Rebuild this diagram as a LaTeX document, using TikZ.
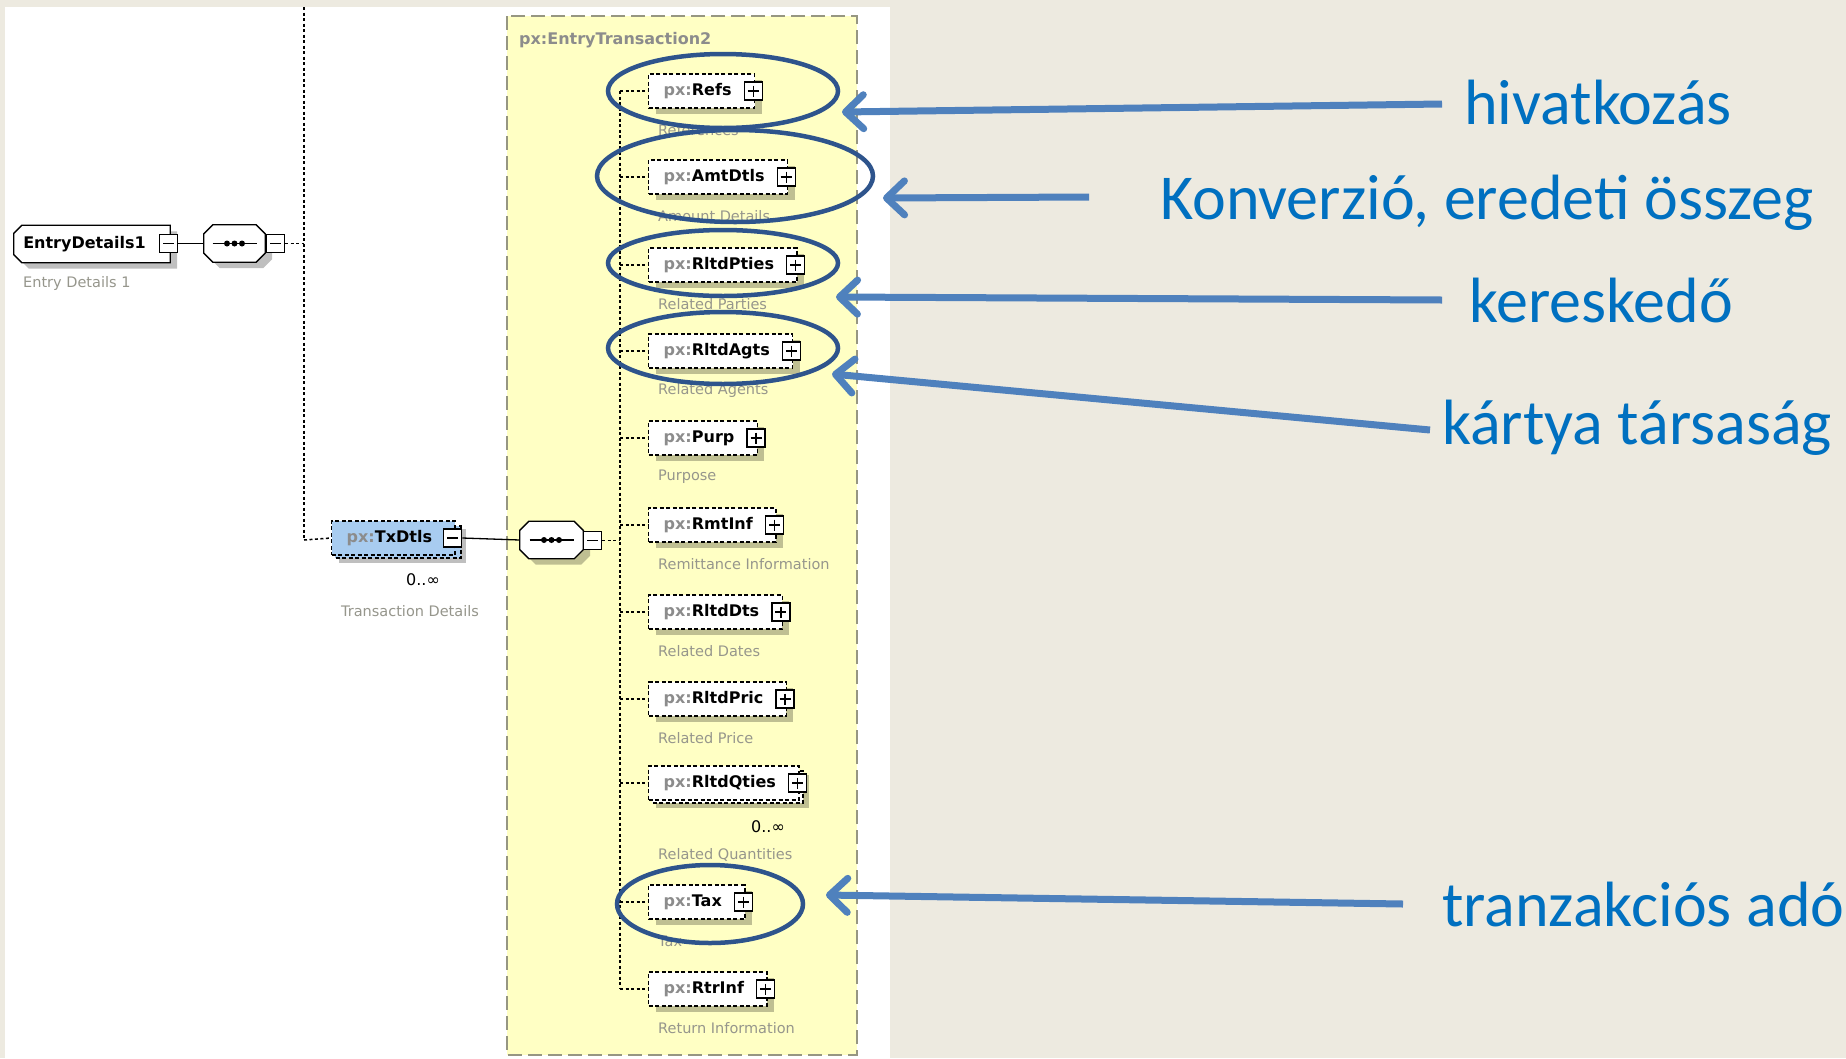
\documentclass[tikz,border=0pt]{standalone}
\usepackage{fontspec}
\setmainfont{DejaVu Sans}
\newfontfamily\calib{Carlito}
\usetikzlibrary{arrows.meta,shadows}
\pgfdeclarelayer{bglayer}
\pgfdeclarelayer{shapelayer}
\pgfsetlayers{bglayer,shapelayer,main}
\definecolor{bgbeige}{RGB}{237,234,224}
\definecolor{panelyellow}{RGB}{255,255,196}
\definecolor{yborder}{RGB}{150,150,130}
\definecolor{txblue}{RGB}{168,204,240}
\definecolor{ringblue}{RGB}{46,84,140}
\definecolor{arrowblue}{RGB}{79,129,189}
\definecolor{labelblue}{RGB}{0,112,192}
\definecolor{descgray}{RGB}{150,150,140}
\definecolor{pxgray}{RGB}{140,140,140}
\newcommand\pxn[1]{{\color{pxgray}px:}#1}
\newcommand\octopath[3]{([xshift=#2]#1.north west) -- ([xshift=-#3]#1.north east) -- ([yshift=-#3]#1.north east) -- ([yshift=#3]#1.south east) -- ([xshift=-#3]#1.south east) -- ([xshift=#2]#1.south west) -- ([yshift=#2]#1.south west) -- ([yshift=-#2]#1.north west) -- cycle}
\newcommand\octoshape[3]{%
  \begin{pgfonlayer}{shapelayer}
  \path[fill=black,opacity=.25,transform canvas={xshift=7pt,yshift=-6pt}] \octopath{#1}{#2}{#3};
  \path[draw,line width=1.3pt,fill=white] \octopath{#1}{#2}{#3};
  \end{pgfonlayer}}
\newcommand\seqdots[1]{%
  \draw[line width=1.2pt] ([xshift=-22pt]#1.center) -- ([xshift=22pt]#1.center);
  \fill (#1.center) circle (3pt) ([xshift=-7.5pt]#1.center) circle (3pt) ([xshift=7.5pt]#1.center) circle (3pt);}
\tikzset{
  shad/.style={drop shadow={shadow xshift=7pt,shadow yshift=-6pt,fill=black,opacity=.25}},
  elembox/.style={draw, line width=1.4pt, dash pattern=on 4pt off 2.5pt, fill=white,
    minimum height=34pt, inner xsep=0pt, inner ysep=0pt, anchor=west,
    font=\fontsize{16}{19}\selectfont\bfseries,
    execute at begin node={\hspace*{15pt}}, execute at end node={\hspace*{23pt}}},
  pmbase/.style={draw, fill=white, line width=1.3pt, minimum size=18pt, inner sep=0pt},
  plusbox/.style={pmbase, path picture={
    \draw[line width=1.3pt] ([xshift=3.5pt]path picture bounding box.west) -- ([xshift=-3.5pt]path picture bounding box.east)
      ([yshift=-3.5pt]path picture bounding box.north) -- ([yshift=3.5pt]path picture bounding box.south);}},
  minusbox/.style={pmbase, path picture={
    \draw[line width=1.3pt] ([xshift=3.5pt]path picture bounding box.west) -- ([xshift=-3.5pt]path picture bounding box.east);}},
  compositor/.style={rectangle, minimum width=61pt, minimum height=37pt, inner sep=0pt},
  desc/.style={anchor=west, inner sep=0pt, text=descgray, font=\fontsize{14.5}{16}\selectfont},
  dotline/.style={line width=1.5pt, dash pattern=on 3pt off 2.5pt},
  solidline/.style={line width=1.3pt},
  ring/.style={draw=ringblue, line width=4.5pt},
  pointer/.style={draw=arrowblue, line width=7pt, -{Straight Barb[length=18pt,width=34pt,round]}},
  callout/.style={anchor=base west, inner sep=0pt, text=labelblue, font=\calib\fontsize{64}{72}\selectfont}
}
\begin{document}
\begin{tikzpicture}[x=1pt,y=-1pt]
\begin{pgfonlayer}{bglayer}
\useasboundingbox (0,0) rectangle (1846,1058);
\fill[bgbeige] (0,0) rectangle (1846,1058);
\fill[white] (5,7) rectangle (890,1058);
\filldraw[fill=panelyellow, draw=yborder, line width=1.5pt, dash pattern=on 14pt off 6pt] (507,16) rectangle (857,1055);
\end{pgfonlayer}
\node[anchor=west, inner sep=0pt, text=pxgray, font=\fontsize{16}{19}\selectfont\bfseries] (etitle) at (519,40) {px:EntryTransaction2};

% top level
\node[rectangle, minimum width=156pt, minimum height=37pt, inner sep=0pt,
  font=\fontsize{16}{19}\selectfont\bfseries] (ent) at (92,244) {EntryDetails1\hspace*{15pt}};
\octoshape{ent}{8pt}{0pt}
\node[minusbox] (ent-m) at (168.5,243.5) {};
\node[desc] (ent-d) at (23,283) {Entry Details 1};
\node[compositor] (seq1) at (234.5,243.5) {};
\octoshape{seq1}{9pt}{9pt}
\seqdots{seq1}
\node[minusbox] (seq1-m) at (275.5,243.5) {};
\coordinate (bus1) at (304,540);
\coordinate (bus1top) at (304,7);
\draw[solidline] (ent-m.east) -- (seq1.west);
\draw[dotline] (seq1-m.east) -- (seq1-m.east -| bus1);
\draw[dotline] (bus1top) -- (bus1);

% TxDtls (repeated element)
\fill[black, opacity=.25] (339,529) rectangle (466,563);
\filldraw[fill=txblue, line width=1.4pt, dash pattern=on 4pt off 2.5pt] (335,526) rectangle (461,558);
\node[elembox, fill=txblue] (tx) at (331,538) {\pxn{TxDtls}};
\node[minusbox] (tx-m) at ([xshift=-3pt]tx.east) {};
\node[inner sep=0pt, font=\fontsize{16}{19}\selectfont] (tx-card) at (423,580) {0..∞};
\node[desc, anchor=center] (tx-d) at (410,611) {Transaction Details};
\draw[dotline] (bus1) -- (tx.west);
\node[compositor, minimum width=63pt] (seq2) at (551.5,540) {};
\octoshape{seq2}{9pt}{9pt}
\seqdots{seq2}
\node[minusbox] (seq2-m) at (592.5,540.5) {};
\draw[solidline] (tx-m.east) -- (seq2.west);
\coordinate (bus2) at (620,540);
\draw[dotline] (seq2-m.east) -- (seq2-m.east -| bus2);

% children
\foreach \nm/\lbl/\dsc/\yy in {refs/Refs/References/91, amt/AmtDtls/Amount Details/177,
  pties/RltdPties/Related Parties/265, agts/RltdAgts/Related Agents/351,
  purp/Purp/Purpose/438, rmt/RmtInf/Remittance Information/525,
  dts/RltdDts/Related Dates/612, pric/RltdPric/Related Price/699,
  tax/Tax/Tax/902, rtr/RtrInf/Return Information/989}{
  \node[elembox, shad] (\nm) at (648,\yy) {\pxn{\lbl}};
  \node[plusbox] (\nm-p) at ([xshift=-2pt]\nm.east) {};
  \node[desc] (\nm-d) at (658,\yy+39) {\dsc};
  \draw[dotline] (bus2 |- \nm.west) -- (\nm.west);
}
% repeated child
\fill[black, opacity=.25] (656,775) rectangle (809,808);
\filldraw[fill=white, line width=1.4pt, dash pattern=on 4pt off 2.5pt] (652,771) rectangle (803,803);
\node[elembox] (qties) at (648,783) {\pxn{RltdQties}};
\node[plusbox] (qties-p) at ([xshift=-2pt]qties.east) {};
\node[inner sep=0pt, font=\fontsize{16}{19}\selectfont] (qties-card) at (768,827) {0..∞};
\node[desc] (qties-d) at (658,855) {Related Quantities};
\draw[dotline] (bus2 |- qties.west) -- (qties.west);
\draw[dotline] (bus2 |- refs.west) -- (bus2 |- rtr.west);

% highlight rings
\draw[ring] (723,91) ellipse [x radius=115, y radius=37];
\draw[ring] (735,176) ellipse [x radius=138, y radius=46];
\draw[ring] (723,263) ellipse [x radius=115, y radius=33];
\draw[ring] (723,348) ellipse [x radius=115, y radius=36];
\draw[ring] (710,904) ellipse [x radius=93, y radius=39];

% callouts
\node[callout] (c1) at (1464,124) {hivatkozás};
\node[callout] (c2) at (1160,219) {Konverzió, eredeti összeg};
\node[callout] (c3) at (1469,322) {kereskedő};
\node[callout] (c4) at (1442,444) {kártya társaság};
\node[callout] (c5) at (1442,926) {tranzakciós adó};
\coordinate (a1s) at (1442,104); \coordinate (a1e) at (842,112);
\coordinate (a2s) at (1089,197); \coordinate (a2e) at (883,198);
\coordinate (a3s) at (1442,300); \coordinate (a3e) at (836,297);
\coordinate (a4s) at (1430,430); \coordinate (a4e) at (832,374);
\coordinate (a5s) at (1403,904); \coordinate (a5e) at (826,895);
\draw[pointer] (a1s) -- (a1e);
\draw[pointer] (a2s) -- (a2e);
\draw[pointer] (a3s) -- (a3e);
\draw[pointer] (a4s) -- (a4e);
\draw[pointer] (a5s) -- (a5e);
\end{tikzpicture}
\end{document}
